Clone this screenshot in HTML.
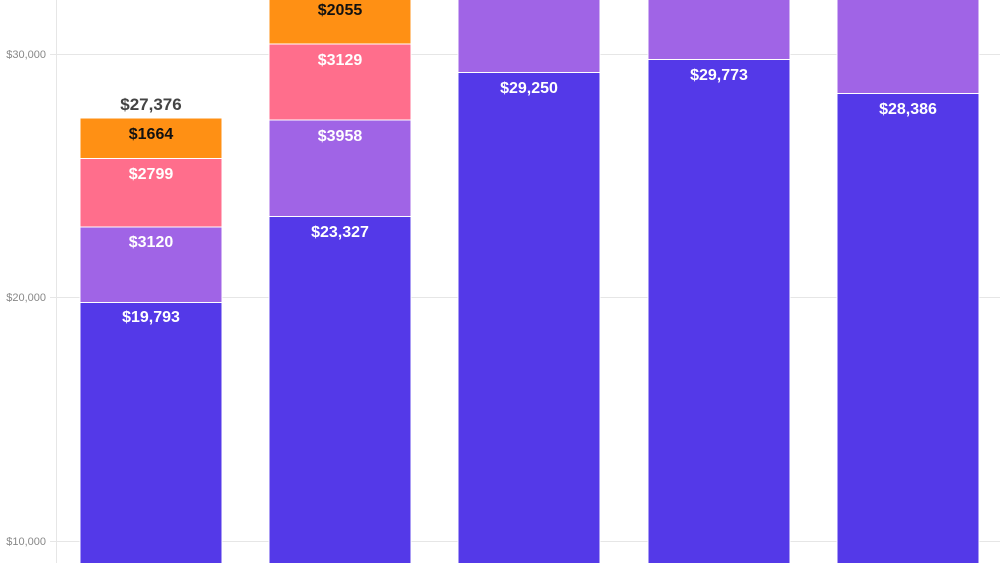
<!DOCTYPE html>
<html><head><style>body{margin:0;background:#fff}svg{display:block}</style></head><body>
<svg width="1000" height="563" xmlns="http://www.w3.org/2000/svg" font-family="Liberation Sans, sans-serif">
<g stroke="#e6e6e6" stroke-width="1">
<line x1="56" y1="54.5" x2="1000" y2="54.5"/><line x1="56" y1="297.5" x2="1000" y2="297.5"/><line x1="56" y1="541.5" x2="1000" y2="541.5"/>
<line x1="56.5" y1="0" x2="56.5" y2="563"/>
<line x1="50" y1="54.5" x2="56" y2="54.5"/><line x1="50" y1="297.5" x2="56" y2="297.5"/><line x1="50" y1="541.5" x2="56" y2="541.5"/>
</g>
<g font-size="11" fill="#888" text-anchor="end">
<text x="46" y="58">$30,000</text><text x="46" y="301">$20,000</text><text x="46" y="545">$10,000</text>
</g>
<g stroke="#fff" stroke-width="1">
<rect x="80" y="302.5" width="142" height="270" fill="#5439e8"/>
<rect x="80" y="227" width="142" height="75.5" fill="#a064e6"/>
<rect x="80" y="158.5" width="142" height="68.5" fill="#ff6e8c"/>
<rect x="80" y="118" width="142" height="40.5" fill="#ff9014"/>
<rect x="269" y="216.5" width="142" height="356" fill="#5439e8"/>
<rect x="269" y="120" width="142" height="96.5" fill="#a064e6"/>
<rect x="269" y="44" width="142" height="76" fill="#ff6e8c"/>
<rect x="269" y="-10" width="142" height="54" fill="#ff9014"/>
<rect x="458" y="72.5" width="142" height="500" fill="#5439e8"/>
<rect x="458" y="-10" width="142" height="82.5" fill="#a064e6"/>
<rect x="648" y="59.5" width="142" height="513" fill="#5439e8"/>
<rect x="648" y="-10" width="142" height="69.5" fill="#a064e6"/>
<rect x="837" y="93.5" width="142" height="480" fill="#5439e8"/>
<rect x="837" y="-10" width="142" height="103.5" fill="#a064e6"/>
</g>
<g font-size="16" font-weight="bold" text-anchor="middle" fill="#fff">
<text x="151" y="322">$19,793</text><text x="151" y="247">$3120</text><text x="151" y="179">$2799</text><text x="151" y="139" fill="#111">$1664</text>
<text x="151" y="110" fill="#444" font-size="17">$27,376</text>
<text x="340" y="237">$23,327</text><text x="340" y="141">$3958</text><text x="340" y="65">$3129</text><text x="340" y="15" fill="#111">$2055</text>
<text x="529" y="93">$29,250</text><text x="719" y="80">$29,773</text><text x="908" y="114">$28,386</text>
</g>
</svg>
</body></html>
